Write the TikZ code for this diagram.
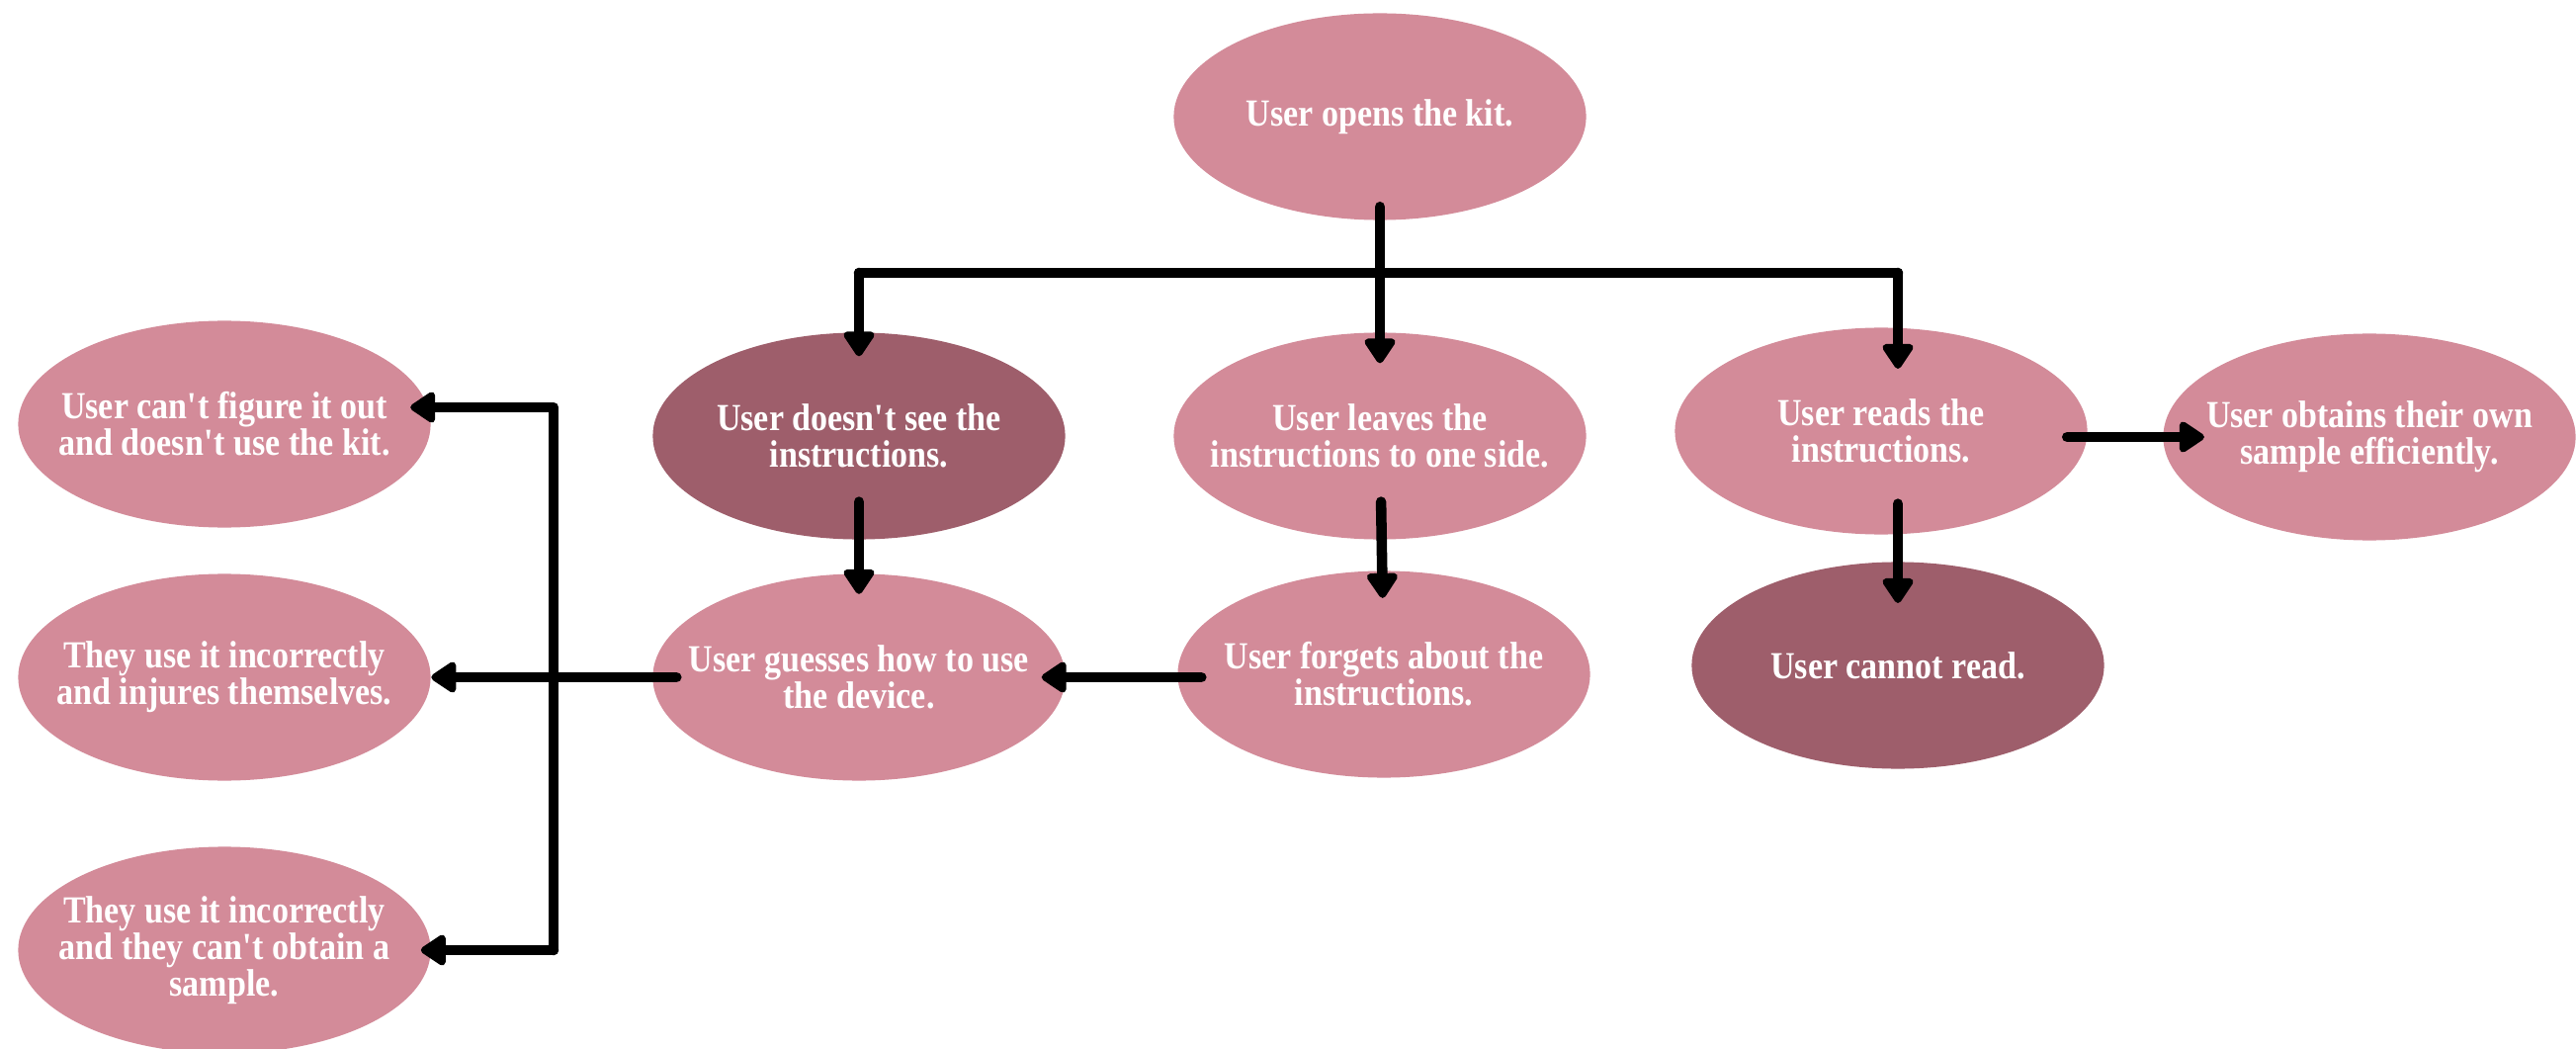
\documentclass[tikz,border=0pt]{standalone}
\usepackage{fontspec}
\setmainfont{Liberation Serif}[FakeStretch=0.88]
\usetikzlibrary{shapes.geometric, arrows.meta}
\definecolor{rosa}{RGB}{211,139,153}
\definecolor{rosascuro}{RGB}{158,94,107}

\begin{document}
\begin{tikzpicture}[x=0.01cm, y=-0.01cm, >={Triangle[length=8pt, width=10pt, round]},
	stato/.style={ellipse, fill=rosa, text=white, minimum width=4.17cm, minimum height=2.09cm,
		inner xsep=-8mm, inner ysep=-4mm, align=center, font=\bfseries\fontsize{11}{10.5}\selectfont},
	scuro/.style={stato, fill=rosascuro},
	freccia/.style={->, line width=3pt, line cap=round, line join=round},
	linea/.style={line width=3pt, line cap=round}]
	\useasboundingbox (0,0) rectangle (2606,1061);
	%%%	Ellissi
	\node[stato] (open) at (1396,118) {User opens the kit.};
	\node[scuro] (nosee) at (869,441) {User doesn\textquotesingle t see the\\instructions.};
	\node[stato] (aside) at (1396,441) {User leaves the\\instructions to one side.};
	\node[stato] (reads) at (1903,436) {User reads the\\instructions.};
	\node[stato] (obtains) at (2397,442) {User obtains their own\\sample efficiently.};
	\node[stato] (guesses) at (869,685) {User guesses how to use\\the device.};
	\node[stato] (forgets) at (1400,682) {User forgets about the\\instructions.};
	\node[scuro] (cantread) at (1920,673) {User cannot read.};
	\node[stato] (giveup) at (227,429) {User can\textquotesingle t figure it out\\and doesn\textquotesingle t use the kit.};
	\node[stato] (injured) at (227,685) {They use it incorrectly\\and injures themselves.};
	\node[stato] (nosample) at (227,961) {They use it incorrectly\\and they can\textquotesingle t obtain a\\sample.};
	%%%	Frecce
	\coordinate (fork) at (1396,276);
	\draw[freccia, shorten <=-4pt, shorten >=-9pt] (open) -- (aside);
	\draw[linea] (nosee |- fork) -- (cantread |- fork);
	\draw[freccia, shorten >=-7pt] (nosee |- fork) -- (nosee);
	\draw[freccia, shorten >=-12pt] (cantread |- fork) -- (reads.north -| cantread);
	\draw[freccia, shorten <=-11pt, shorten >=-6pt] (nosee) -- (guesses);
	\draw[freccia, shorten <=-11pt, shorten >=-8pt] (aside) -- (forgets);
	\draw[freccia, shorten <=-7pt, shorten >=-7pt] (forgets.west |- guesses) -- (guesses);
	\draw[freccia, shorten <=-6pt, shorten >=-12pt] (reads.east |- obtains) -- (obtains);
	\draw[freccia, shorten <=-9pt, shorten >=-12pt] (reads.south -| cantread) -- (cantread);
	\draw[freccia, shorten <=-7pt] (guesses) -- (injured);
	\coordinate (spinetop) at (560,412);
	\coordinate (spinebot) at (560,961);
	\draw[freccia, shorten >=-6pt] (spinebot) -- (spinetop) -- (spinetop -| giveup.east);
	\draw[freccia, shorten >=-3pt] (spinebot) -- (nosample);
\end{tikzpicture}
\end{document}
